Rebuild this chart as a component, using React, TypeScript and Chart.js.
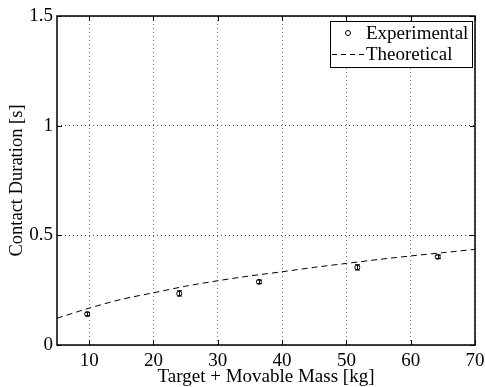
import React, { useEffect, useRef } from "react";
import { Chart, registerables } from "chart.js";

Chart.register(...registerables);

const expMass = [9.7, 24.0, 36.4, 51.7, 64.2];
const expDuration = [0.141, 0.235, 0.288, 0.354, 0.402];
const expError = [0.008, 0.012, 0.008, 0.012, 0.008];

const theoMass = [5, 10, 15, 20, 25, 30, 35, 40, 45, 50, 55, 60, 65, 70];
const theoDuration = [0.122, 0.168, 0.208, 0.238, 0.268, 0.293, 0.315, 0.334, 0.354, 0.372, 0.39, 0.406, 0.421, 0.436];

const xTicks = [10, 20, 30, 40, 50, 60, 70];
const yTicks = [0, 0.5, 1, 1.5];

const FONT = "'Liberation Serif', 'Times New Roman', serif";

const errorBarPlugin = {
  id: "errorBars",
  afterDatasetsDraw(chart: any) {
    const { ctx, scales } = chart;
    const xs = scales.x;
    const ys = scales.y;
    ctx.save();
    ctx.strokeStyle = "#000";
    ctx.lineWidth = 1;
    for (let i = 0; i < expMass.length; i++) {
      const px = Math.round(xs.getPixelForValue(expMass[i])) + 0.5;
      const y1 = ys.getPixelForValue(expDuration[i] - expError[i]);
      const y2 = ys.getPixelForValue(expDuration[i] + expError[i]);
      ctx.beginPath();
      ctx.moveTo(px, y1);
      ctx.lineTo(px, y2);
      ctx.moveTo(px - 2.5, y1);
      ctx.lineTo(px + 2.5, y1);
      ctx.moveTo(px - 2.5, y2);
      ctx.lineTo(px + 2.5, y2);
      ctx.stroke();
    }
    ctx.restore();
  },
};

const frameLegendPlugin = {
  id: "frameLegend",
  afterDraw(chart: any) {
    const { ctx, chartArea, scales } = chart;
    const { left, right, top, bottom } = chartArea;
    ctx.save();
    // axes box
    ctx.strokeStyle = "#000";
    ctx.lineWidth = 1.5;
    ctx.setLineDash([]);
    ctx.strokeRect(left, top, right - left, bottom - top);
    // inward ticks on all four sides
    ctx.lineWidth = 1;
    const tl = 5;
    ctx.beginPath();
    for (const v of xTicks) {
      const px = Math.round(scales.x.getPixelForValue(v)) + 0.5;
      ctx.moveTo(px, bottom);
      ctx.lineTo(px, bottom - tl);
      ctx.moveTo(px, top);
      ctx.lineTo(px, top + tl);
    }
    for (const v of yTicks) {
      const py = Math.round(scales.y.getPixelForValue(v)) + 0.5;
      ctx.moveTo(left, py);
      ctx.lineTo(left + tl, py);
      ctx.moveTo(right, py);
      ctx.lineTo(right - tl, py);
    }
    ctx.stroke();

    // legend
    const lx1 = right - 145;
    const lx2 = right - 3;
    const ly1 = top + 5;
    const ly2 = top + 51;
    ctx.fillStyle = "#fff";
    ctx.fillRect(lx1, ly1, lx2 - lx1, ly2 - ly1);
    ctx.lineWidth = 1;
    ctx.strokeStyle = "#000";
    ctx.strokeRect(lx1 + 0.5, ly1 + 0.5, lx2 - lx1, ly2 - ly1);
    const row1 = ly1 + 12;
    const row2 = ly1 + 33;
    const textX = lx1 + 36;
    ctx.font = `19px ${FONT}`;
    ctx.fillStyle = "#000";
    ctx.textBaseline = "middle";
    ctx.textAlign = "left";
    const ds = chart.data.datasets;
    // marker
    ctx.beginPath();
    ctx.arc(lx1 + 18, row1, 2.5, 0, Math.PI * 2);
    ctx.stroke();
    ctx.fillText(ds[0].label, textX, row1 + 1);
    // dashed line
    ctx.beginPath();
    ctx.setLineDash([5, 4]);
    ctx.moveTo(lx1 + 2, row2 + 0.5);
    ctx.lineTo(lx1 + 35, row2 + 0.5);
    ctx.stroke();
    ctx.setLineDash([]);
    ctx.fillText(ds[1].label, textX, row2 + 1);
    ctx.restore();
  },
};

export default function App() {
  const ref = useRef<HTMLCanvasElement | null>(null);
  useEffect(() => {
    document.body.style.margin = "0";
    const canvas = ref.current!;
    const chart = new Chart(canvas, {
      type: "scatter",
      data: {
        datasets: [
          {
            label: "Experimental",
            data: expMass.map((x, i) => ({ x, y: expDuration[i] })),
            pointStyle: "circle",
            pointRadius: 2.5,
            pointBorderWidth: 1,
            pointBorderColor: "#000",
            pointBackgroundColor: "rgba(0,0,0,0)",
            showLine: false,
          },
          {
            label: "Theoretical",
            data: theoMass.map((x, i) => ({ x, y: theoDuration[i] })),
            showLine: true,
            borderColor: "#000",
            borderWidth: 1,
            borderDash: [6, 4],
            pointRadius: 0,
            tension: 0.3,
            fill: false,
          },
        ],
      },
      options: {
        animation: false,
        responsive: false,
        events: [],
        layout: { padding: { top: 16, right: 10, left: 0, bottom: 0 } },
        plugins: { legend: { display: false }, tooltip: { enabled: false } },
        scales: {
          x: {
            type: "linear",
            min: 5,
            max: 70,
            afterBuildTicks: (axis: any) => {
              axis.ticks = xTicks.map((v) => ({ value: v }));
            },
            afterFit: (scale: any) => {
              scale.height = 42;
              scale.paddingRight = 0;
              scale.paddingLeft = 0;
            },
            grid: { color: "rgba(0,0,0,0.55)", drawTicks: false, lineWidth: 1 },
            border: { display: false, dash: [1, 3] },
            ticks: {
              color: "#000",
              padding: 5,
              maxRotation: 0,
              font: { family: FONT, size: 19 },
            },
            title: {
              display: true,
              text: "Target + Movable Mass [kg]",
              color: "#000",
              font: { family: FONT, size: 19 },
              padding: { top: 0, bottom: -1 },
            },
          },
          y: {
            type: "linear",
            min: 0,
            max: 1.5,
            afterBuildTicks: (axis: any) => {
              axis.ticks = yTicks.map((v) => ({ value: v }));
            },
            afterFit: (scale: any) => {
              scale.width = 57;
              scale.paddingTop = 0;
              scale.paddingBottom = 0;
            },
            grid: { color: "rgba(0,0,0,0.75)", drawTicks: false, lineWidth: 1 },
            border: { display: false, dash: [1, 3] },
            ticks: {
              color: "#000",
              padding: 4,
              font: { family: FONT, size: 19 },
              callback: (v: any) => String(v),
            },
            title: {
              display: true,
              text: "Contact Duration [s]",
              color: "#000",
              font: { family: FONT, size: 18.5 },
              padding: { top: 6, bottom: 0 },
            },
          },
        },
      },
      plugins: [errorBarPlugin, frameLegendPlugin],
    });
    return () => chart.destroy();
  }, []);
  return (
    <div style={{ width: 485, height: 387, background: "#fff" }}>
      <canvas ref={ref} width={485} height={387} style={{ display: "block" }} />
    </div>
  );
}
